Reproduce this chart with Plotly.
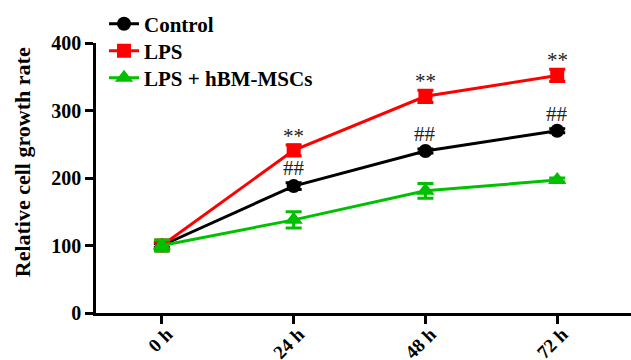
import plotly.graph_objects as go

categories = ["0 h", "24 h", "48 h", "72 h"]
control = [100, 188, 240, 270]
control_err = [3, 5, 3, 3]
lps = [100, 241, 321, 352]
lps_err = [5, 8, 9, 9]
green = [100, 138, 181, 197]
green_err = [8, 12, 11, 3]
lps_marks = ["", "**", "**", "**"]
ctrl_marks = ["", "##", "##", "##"]

FONT = "Liberation Serif"
xs = list(range(len(categories)))

fig = go.Figure()
series = [
    ("Control", control, control_err, "black", "circle", 14, "legend", 1.070),
    ("LPS", lps, lps_err, "red", "square", 14, "legend2", 0.970),
    ("LPS + hBM-MSCs", green, green_err, "#00c000", "triangle-up", 16, "legend3", 0.870),
]
legends = {}
for name, vals, err, col, sym, sz, lg, ly in series:
    fig.add_trace(go.Scatter(
        x=xs, y=vals, name=name, mode="lines+markers",
        line=dict(color=col, width=3),
        marker=dict(color=col, symbol=sym, size=sz),
        error_y=dict(type="data", array=err, color=col, thickness=3, width=8),
        cliponaxis=False, legend=lg,
    ))
    legends[lg] = dict(x=0.015, y=ly, xanchor="left", yanchor="middle",
                       font=dict(family=FONT, size=21, weight="bold"),
                       bgcolor="rgba(0,0,0,0)", itemwidth=30)

for x, v, e, m in zip(xs, lps, lps_err, lps_marks):
    if m:
        fig.add_annotation(x=x, y=v + e, text=m, showarrow=False, yanchor="bottom", yshift=-5,
                           font=dict(family=FONT, size=21, color="#222"))
for x, v, e, m in zip(xs, control, control_err, ctrl_marks):
    if m:
        fig.add_annotation(x=x, y=v + e, text=m, showarrow=False, yanchor="bottom", yshift=1,
                           font=dict(family=FONT, size=21, color="#222"))

fig.add_annotation(xref="paper", yref="paper", x=-0.138, y=0.559, text="Relative cell growth rate",
                   textangle=-90, showarrow=False, xanchor="center", yanchor="middle",
                   font=dict(family=FONT, size=22, weight="bold", color="black"))

fig.update_layout(
    width=631, height=360,
    margin=dict(l=96, r=0, t=43, b=47, autoexpand=False),
    plot_bgcolor="white", paper_bgcolor="white",
    font=dict(family=FONT, color="black"),
    showlegend=True,
    xaxis=dict(range=[-0.5, 3.56], tickmode="array", tickvals=xs, ticktext=categories,
               tickangle=-45, showline=True, linecolor="black", linewidth=2.5,
               ticks="outside", ticklen=8, tickwidth=2.5, tickcolor="black",
               showgrid=False, zeroline=False, automargin=False,
               ticklabelstandoff=-8, ticklabelshift=5,
               tickfont=dict(family=FONT, size=19, weight="bold")),
    yaxis=dict(range=[0, 400], tickvals=[0, 100, 200, 300, 400],
               showline=True, linecolor="black", linewidth=2.5,
               ticks="outside", ticklen=8, tickwidth=2.5, tickcolor="black",
               showgrid=False, zeroline=False, automargin=False,
               tickfont=dict(family=FONT, size=20, weight="bold")),
    **legends,
)

fig.write_html("out.html", config={"displayModeBar": False},
               post_script="document.body.style.margin='0';document.body.style.overflow='hidden';")
